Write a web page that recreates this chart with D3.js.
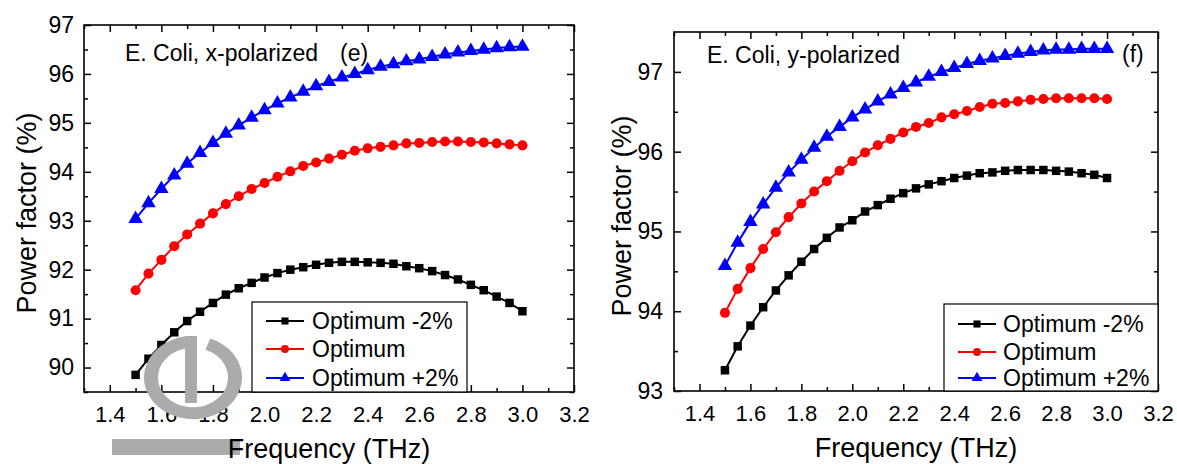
<!DOCTYPE html>
<html>
<head>
<meta charset="utf-8">
<script src="https://cdn.jsdelivr.net/npm/d3@7"></script>
<style>
  html, body { margin: 0; padding: 0; background: #fff; }
  svg { display: block; }
  text { font-family: "Liberation Sans", Arial, sans-serif; fill: #000; }
</style>
</head>
<body>
<svg id="chart" width="1177" height="464"></svg>
<script>
// ---------- data ----------
const freq = [1.5, 1.55, 1.6, 1.65, 1.7, 1.75, 1.8, 1.85, 1.9, 1.95, 2.0, 2.05, 2.1, 2.15, 2.2, 2.25,
              2.3, 2.35, 2.4, 2.45, 2.5, 2.55, 2.6, 2.65, 2.7, 2.75, 2.8, 2.85, 2.9, 2.95, 3.0];

// panel (e) E. Coli, x-polarized
const xPolMinus2 = [89.85, 90.18, 90.46, 90.72, 90.95, 91.14, 91.32, 91.49, 91.62, 91.73, 91.84, 91.93, 92.00,
                    92.05, 92.10, 92.14, 92.16, 92.16, 92.15, 92.14, 92.12, 92.07, 92.03, 91.97, 91.89, 91.80,
                    91.69, 91.58, 91.45, 91.32, 91.15];
const xPolOptimum = [91.58, 91.92, 92.20, 92.48, 92.72, 92.94, 93.15, 93.34, 93.50, 93.65, 93.77, 93.90, 94.01,
                     94.12, 94.19, 94.27, 94.35, 94.43, 94.48, 94.51, 94.54, 94.58, 94.59, 94.61, 94.62, 94.62,
                     94.61, 94.60, 94.58, 94.56, 94.54];
const xPolPlus2 = [93.04, 93.36, 93.65, 93.93, 94.17, 94.39, 94.59, 94.78, 94.95, 95.11, 95.26, 95.40, 95.52,
                   95.64, 95.75, 95.84, 95.93, 96.00, 96.08, 96.15, 96.20, 96.26, 96.30, 96.35, 96.40, 96.44,
                   96.47, 96.50, 96.53, 96.55, 96.56];

// panel (f) E. Coli, y-polarized
const yPolMinus2 = [93.26, 93.56, 93.82, 94.05, 94.26, 94.45, 94.62, 94.78, 94.92, 95.05, 95.14, 95.25, 95.33,
                    95.41, 95.48, 95.54, 95.59, 95.63, 95.67, 95.70, 95.73, 95.74, 95.76, 95.77, 95.77, 95.77,
                    95.76, 95.75, 95.73, 95.71, 95.67];
const yPolOptimum = [93.98, 94.28, 94.54, 94.78, 94.99, 95.18, 95.35, 95.50, 95.63, 95.76, 95.88, 95.99, 96.08,
                     96.16, 96.24, 96.31, 96.36, 96.43, 96.47, 96.51, 96.56, 96.60, 96.61, 96.63, 96.65, 96.66,
                     96.67, 96.67, 96.67, 96.67, 96.66];
const yPolPlus2 = [94.57, 94.86, 95.12, 95.34, 95.55, 95.74, 95.90, 96.05, 96.19, 96.31, 96.43, 96.53, 96.63,
                   96.72, 96.80, 96.87, 96.94, 97.00, 97.05, 97.10, 97.14, 97.17, 97.20, 97.23, 97.25, 97.27,
                   97.28, 97.28, 97.29, 97.29, 97.29];

const seriesNames = ["Optimum -2%", "Optimum", "Optimum +2%"];
const seriesColors = ["#000000", "#ff0000", "#0000ff"];
const seriesSymbols = [d3.symbolSquare, d3.symbolCircle, d3.symbolTriangle];

const xMajorTicks = [1.4, 1.6, 1.8, 2.0, 2.2, 2.4, 2.6, 2.8, 3.0, 3.2];
const xMinorTicks = [1.3, 1.5, 1.7, 1.9, 2.1, 2.3, 2.5, 2.7, 2.9, 3.1];
const yTicksE = [90, 91, 92, 93, 94, 95, 96, 97];
const yMinorE = [89.5, 90.5, 91.5, 92.5, 93.5, 94.5, 95.5, 96.5];
const yTicksF = [93, 94, 95, 96, 97];
const yMinorF = [93.5, 94.5, 95.5, 96.5];

const xLabel = "Frequency (THz)";
const yLabel = "Power factor (%)";

// ---------- drawing ----------
const svg = d3.select("#chart");

// grey decorative bar behind left x title (present in the reference)
svg.append("rect").attr("x", 112).attr("y", 439).attr("width", 128).attr("height", 16).attr("fill", "#ababab");

function panel(cfg) {
  const x = d3.scaleLinear().domain([1.3, 3.2]).range([cfg.left, cfg.right]);
  const y = d3.scaleLinear().domain(cfg.yDomain).range([cfg.bottom, cfg.top]);
  const g = svg.append("g");
  const W = cfg.right - cfg.left, H = cfg.bottom - cfg.top;
  const major = 7, minor = 4;

  // bottom
  g.append("g").attr("transform", `translate(0,${cfg.bottom})`)
    .call(d3.axisBottom(x).tickValues(xMinorTicks).tickSizeInner(-minor).tickSizeOuter(0).tickFormat(""));
  g.append("g").attr("class", "xt").attr("transform", `translate(0,${cfg.bottom})`)
    .call(d3.axisBottom(x).tickValues(xMajorTicks).tickSizeInner(-major).tickSizeOuter(0).tickPadding(14).tickFormat(d3.format(".1f")));
  // top
  g.append("g").attr("transform", `translate(0,${cfg.top})`)
    .call(d3.axisTop(x).tickValues(xMinorTicks).tickSizeInner(-minor).tickSizeOuter(0).tickFormat(""));
  g.append("g").attr("transform", `translate(0,${cfg.top})`)
    .call(d3.axisTop(x).tickValues(xMajorTicks).tickSizeInner(-major).tickSizeOuter(0).tickFormat(""));
  // left
  g.append("g").attr("transform", `translate(${cfg.left},0)`)
    .call(d3.axisLeft(y).tickValues(cfg.yMinor).tickSizeInner(-minor).tickSizeOuter(0).tickFormat(""));
  g.append("g").attr("class", "yt").attr("transform", `translate(${cfg.left},0)`)
    .call(d3.axisLeft(y).tickValues(cfg.yTicks).tickSizeInner(-major).tickSizeOuter(0).tickPadding(cfg.yPad).tickFormat(d3.format("d")));
  // right
  g.append("g").attr("transform", `translate(${cfg.right},0)`)
    .call(d3.axisRight(y).tickValues(cfg.yMinor).tickSizeInner(-minor).tickSizeOuter(0).tickFormat(""));
  g.append("g").attr("transform", `translate(${cfg.right},0)`)
    .call(d3.axisRight(y).tickValues(cfg.yTicks).tickSizeInner(-major).tickSizeOuter(0).tickFormat(""));

  g.selectAll(".domain").remove();
  g.selectAll(".tick line").attr("stroke", "#000").attr("stroke-width", 1.5);
  g.selectAll(".xt text").attr("font-size", 22).attr("font-family", "Liberation Sans, Arial, sans-serif").attr("fill", "#000");
  g.selectAll(".yt text").attr("font-size", 23).attr("font-family", "Liberation Sans, Arial, sans-serif").attr("fill", "#000");

  g.append("rect").attr("x", cfg.left).attr("y", cfg.top).attr("width", W).attr("height", H)
    .attr("fill", "none").attr("stroke", "#000").attr("stroke-width", 1.6);

  // series
  const line = d3.line().x((d, i) => x(freq[i])).y(d => y(d));
  const markerSize = [72, 80, 90];
  cfg.series.forEach((vals, k) => {
    g.append("path").datum(vals).attr("d", line).attr("fill", "none")
      .attr("stroke", seriesColors[k]).attr("stroke-width", 2);
    g.selectAll(null).data(vals).enter().append("path")
      .attr("transform", (d, i) => `translate(${x(freq[i])},${y(d)})`)
      .attr("d", d3.symbol().type(seriesSymbols[k]).size(markerSize[k]))
      .attr("fill", seriesColors[k]);
  });

  // annotation
  g.append("text").attr("x", cfg.noteX).attr("y", cfg.noteY).attr("font-size", 23).text(cfg.note);
  g.append("text").attr("x", cfg.tagX).attr("y", cfg.tagY).attr("font-size", 23).text(cfg.tag);

  // legend
  const lg = cfg.legend;
  g.append("rect").attr("x", lg.x0).attr("y", lg.y0).attr("width", lg.x1 - lg.x0).attr("height", cfg.bottom - lg.y0)
    .attr("fill", "#fff").attr("stroke", "#000").attr("stroke-width", 1.2);
  seriesNames.forEach((name, k) => {
    const ry = lg.rows[k];
    g.append("line").attr("x1", lg.lx0).attr("x2", lg.lx1).attr("y1", ry).attr("y2", ry)
      .attr("stroke", seriesColors[k]).attr("stroke-width", 2);
    g.append("path").attr("transform", `translate(${(lg.lx0 + lg.lx1) / 2},${ry})`)
      .attr("d", d3.symbol().type(seriesSymbols[k]).size(50)).attr("fill", seriesColors[k]);
    g.append("text").attr("x", lg.tx).attr("y", ry + 8).attr("font-size", 23).text(name);
  });

  // axis titles
  g.append("text").attr("x", (cfg.left + cfg.right) / 2).attr("y", cfg.xTitleY).attr("text-anchor", "middle")
    .attr("font-size", 27).text(xLabel);
  g.append("text").attr("transform", `translate(${cfg.yTitleX},${cfg.yTitleY}) rotate(-90)`)
    .attr("text-anchor", "middle").attr("font-size", 27).text(yLabel);
}

panel({
  left: 84, right: 574, top: 25, bottom: 392,
  yDomain: [89.5, 97], yTicks: yTicksE, yMinor: yMinorE, yPad: 10,
  series: [xPolMinus2, xPolOptimum, xPolPlus2],
  note: "E. Coli, x-polarized", noteX: 125, noteY: 61,
  tag: "(e)", tagX: 340, tagY: 61,
  legend: { x0: 252, x1: 467, y0: 302, lx0: 266, lx1: 304, tx: 312, rows: [321, 349, 378] },
  xTitleY: 458, yTitleX: 36, yTitleY: 213
});

panel({
  left: 674, right: 1158, top: 32, bottom: 391,
  yDomain: [93, 97.5], yTicks: yTicksF, yMinor: yMinorF, yPad: 11,
  series: [yPolMinus2, yPolOptimum, yPolPlus2],
  note: "E. Coli, y-polarized", noteX: 707, noteY: 63,
  tag: "(f)", tagX: 1122, tagY: 62,
  legend: { x0: 944, x1: 1158, y0: 304, lx0: 958, lx1: 996, tx: 1003, rows: [324, 352, 378] },
  xTitleY: 457, yTitleX: 631, yTitleY: 216
});

// grey decorative ring logo overlay (present in the reference)
const logo = svg.append("g").attr("transform", "translate(193,377.5) scale(1,0.85)");
logo.append("path")
  .attr("d", d3.arc().innerRadius(35).outerRadius(49).startAngle(0.36).endAngle(2 * Math.PI - 0.1)())
  .attr("fill", "#ababab");
svg.append("rect").attr("x", 185).attr("y", 336).attr("width", 12).attr("height", 67).attr("fill", "#ababab");
</script>
</body>
</html>
